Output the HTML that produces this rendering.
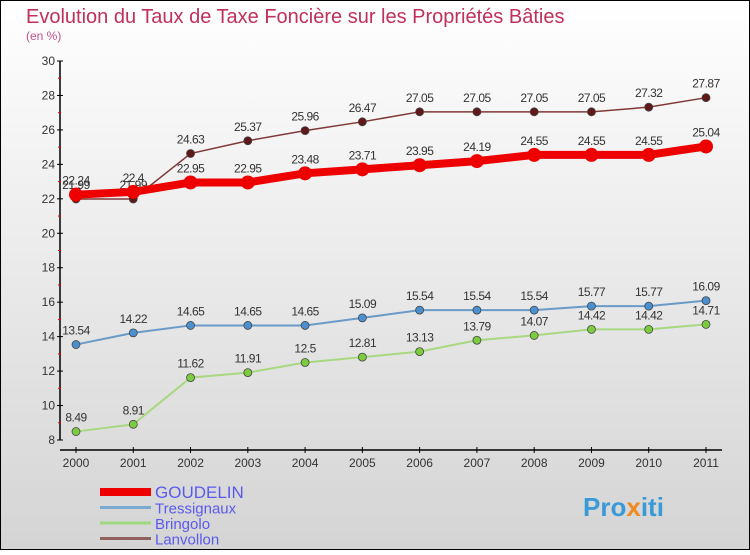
<!DOCTYPE html>
<html><head><meta charset="utf-8"><style>
body{margin:0}
#c{width:750px;height:550px;position:relative;font-family:"Liberation Sans",sans-serif}
</style></head><body>
<div id="c">
<svg id="s" width="750" height="550" xmlns="http://www.w3.org/2000/svg">
<defs><linearGradient id="bg" x1="0" y1="0" x2="0" y2="1"><stop offset="0" stop-color="#ffffff"/><stop offset="1" stop-color="#d4d4d4"/></linearGradient></defs>
<rect x="0.5" y="0.5" width="749" height="549" fill="url(#bg)" stroke="#000"/>
<text x="26" y="23" font-size="20" fill="#c0305a">Evolution du Taux de Taxe Foncière sur les Propriétés Bâties</text>
<text x="26" y="40" font-size="12" fill="#c0508a">(en %)</text>
<g id="axes"></g><g id="series"></g><g id="legend"></g>
<text x="583" y="516" font-size="26" font-weight="bold" fill="#3a9ad8">Pro<tspan fill="#f08a20">x</tspan>iti</text>
</svg></div>
<script>
const years=[2000,2001,2002,2003,2004,2005,2006,2007,2008,2009,2010,2011];
const yTicks=[8,10,12,14,16,18,20,22,24,26,28,30];
const goudelin=[22.24,22.4,22.95,22.95,23.48,23.71,23.95,24.19,24.55,24.55,24.55,25.04];
const tressignaux=[13.54,14.22,14.65,14.65,14.65,15.09,15.54,15.54,15.54,15.77,15.77,16.09];
const bringolo=[8.49,8.91,11.62,11.91,12.5,12.81,13.13,13.79,14.07,14.42,14.42,14.71];
const lanvollon=[21.99,21.99,24.63,25.37,25.96,26.47,27.05,27.05,27.05,27.05,27.32,27.87];
const NS="http://www.w3.org/2000/svg";
const X=i=>76+i*(630/11);
const Y=v=>440-(v-8)*(379/22);
function mk(t,a,p){const e=document.createElementNS(NS,t);for(const k in a)e.setAttribute(k,a[k]);p.appendChild(e);return e;}
const ax=document.getElementById('axes');
let l=mk('line',{x1:60,y1:Y(30),x2:60,y2:Y(8),stroke:'#000','stroke-width':1.5},ax);


l=mk('line',{x1:60,y1:450,x2:722,y2:450,stroke:'#000','stroke-width':1.5},ax);


yTicks.forEach(v=>{
 mk('line',{x1:57,y1:Y(v),x2:63,y2:Y(v),stroke:'#000'},ax);
 if(v<30) mk('line',{x1:58,y1:Y(v+1),x2:61,y2:Y(v+1),stroke:'#e00'},ax);
 const t=mk('text',{x:55,y:Y(v)+4,'text-anchor':'end','font-size':12,fill:'#333'},ax);t.textContent=v;
 
 
});
years.forEach((y,i)=>{
 mk('line',{x1:X(i),y1:447,x2:X(i),y2:453,stroke:'#000'},ax);
 const t=mk('text',{x:X(i),y:467,'text-anchor':'middle','font-size':12,fill:'#333'},ax);t.textContent=y;
 
 
});
const sg=document.getElementById('series');
function series(d,name,col,fill,w,r){
 const g=mk('g',{},sg);
 
 
 const pl=mk('polyline',{points:d.map((v,i)=>X(i)+','+Y(v)).join(' '),fill:'none',stroke:col,'stroke-width':w},g);
 
 
 d.forEach((v,i)=>{
  const c=mk('circle',{cx:X(i),cy:Y(v),r:r,fill:fill,stroke:'#444','stroke-width':r>5?0:0.8},g);
  
  
  const t=mk('text',{x:X(i),y:Y(v)-10,'text-anchor':'middle','font-size':12,fill:'#333','letter-spacing':'-0.5'},g);t.textContent=v;
  
  
 });
}
series(bringolo,'bringolo','#a8d880','#7ccc40',2,4);
series(tressignaux,'tressignaux','#6a9ac8','#4a90d0',2,4);
series(lanvollon,'lanvollon','#803838','#601818',1.5,4);
series(goudelin,'goudelin','#ee0000','#ee0000',8,7);
const lg=document.getElementById('legend');
[['GOUDELIN','#ee0000',8],['Tressignaux','#7aaad0',3],['Bringolo','#a0d880',3],['Lanvollon','#906060',3]].forEach((e,i)=>{
 const y=492+i*15.5;
 const g=mk('g',{},lg);
 
 
 mk('line',{x1:100,y1:y,x2:151,y2:y,stroke:e[1],'stroke-width':e[2]},g);
 const t=mk('text',{x:155,y:y+6,'font-size':i==0?17:15,fill:'#5a5aee'},g);t.textContent=e[0];
});
</script>
</body></html>
